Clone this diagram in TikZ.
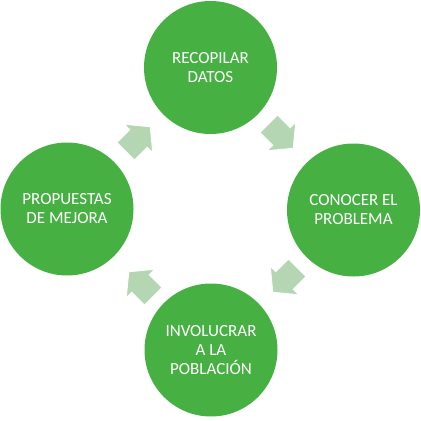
\documentclass[tikz,border=0pt]{standalone}
\usepackage{fontspec}
\setmainfont{Carlito}
\definecolor{cgreen}{RGB}{70,176,67}
\definecolor{agreen}{RGB}{181,214,178}
\tikzset{
  stage/.style={circle, fill=cgreen, minimum size=133pt, inner sep=0pt,
    text=white, align=center, font=\fontsize{17}{19}\selectfont},
  flowarrow/.style={fill=agreen, draw=white, line width=0.8pt, line join=miter},
  pics/cyclearrow/.style={code={
    \path[flowarrow] (-17.25,-12.4) -- (0.75,-12.4) -- (0.75,-20) -- (17.25,0)
      -- (0.75,20) -- (0.75,12.4) -- (-17.25,12.4) -- cycle;
  }}
}
\begin{document}
\begin{tikzpicture}[x=1pt,y=-1pt]
\path[use as bounding box] (0,0) rectangle (421,421);
\node[stage] (top) at (210.5,67.5) {RECOPILAR\\DATOS};
\node[stage] (right) at (353.5,210) {CONOCER EL\\PROBLEMA};
\node[stage] (bottom) at (211,350) {INVOLUCRAR\\A LA\\POBLACIÓN};
\node[stage] (left) at (67,209) {PROPUESTAS\\DE MEJORA};
\pic[rotate=45] (a1) at (138,139) {cyclearrow};
\pic[rotate=-45] (a2) at (281,136) {cyclearrow};
\pic[rotate=-135] (a3) at (285,280) {cyclearrow};
\pic[rotate=135] (a4) at (141,284) {cyclearrow};
\end{tikzpicture}
\end{document}
